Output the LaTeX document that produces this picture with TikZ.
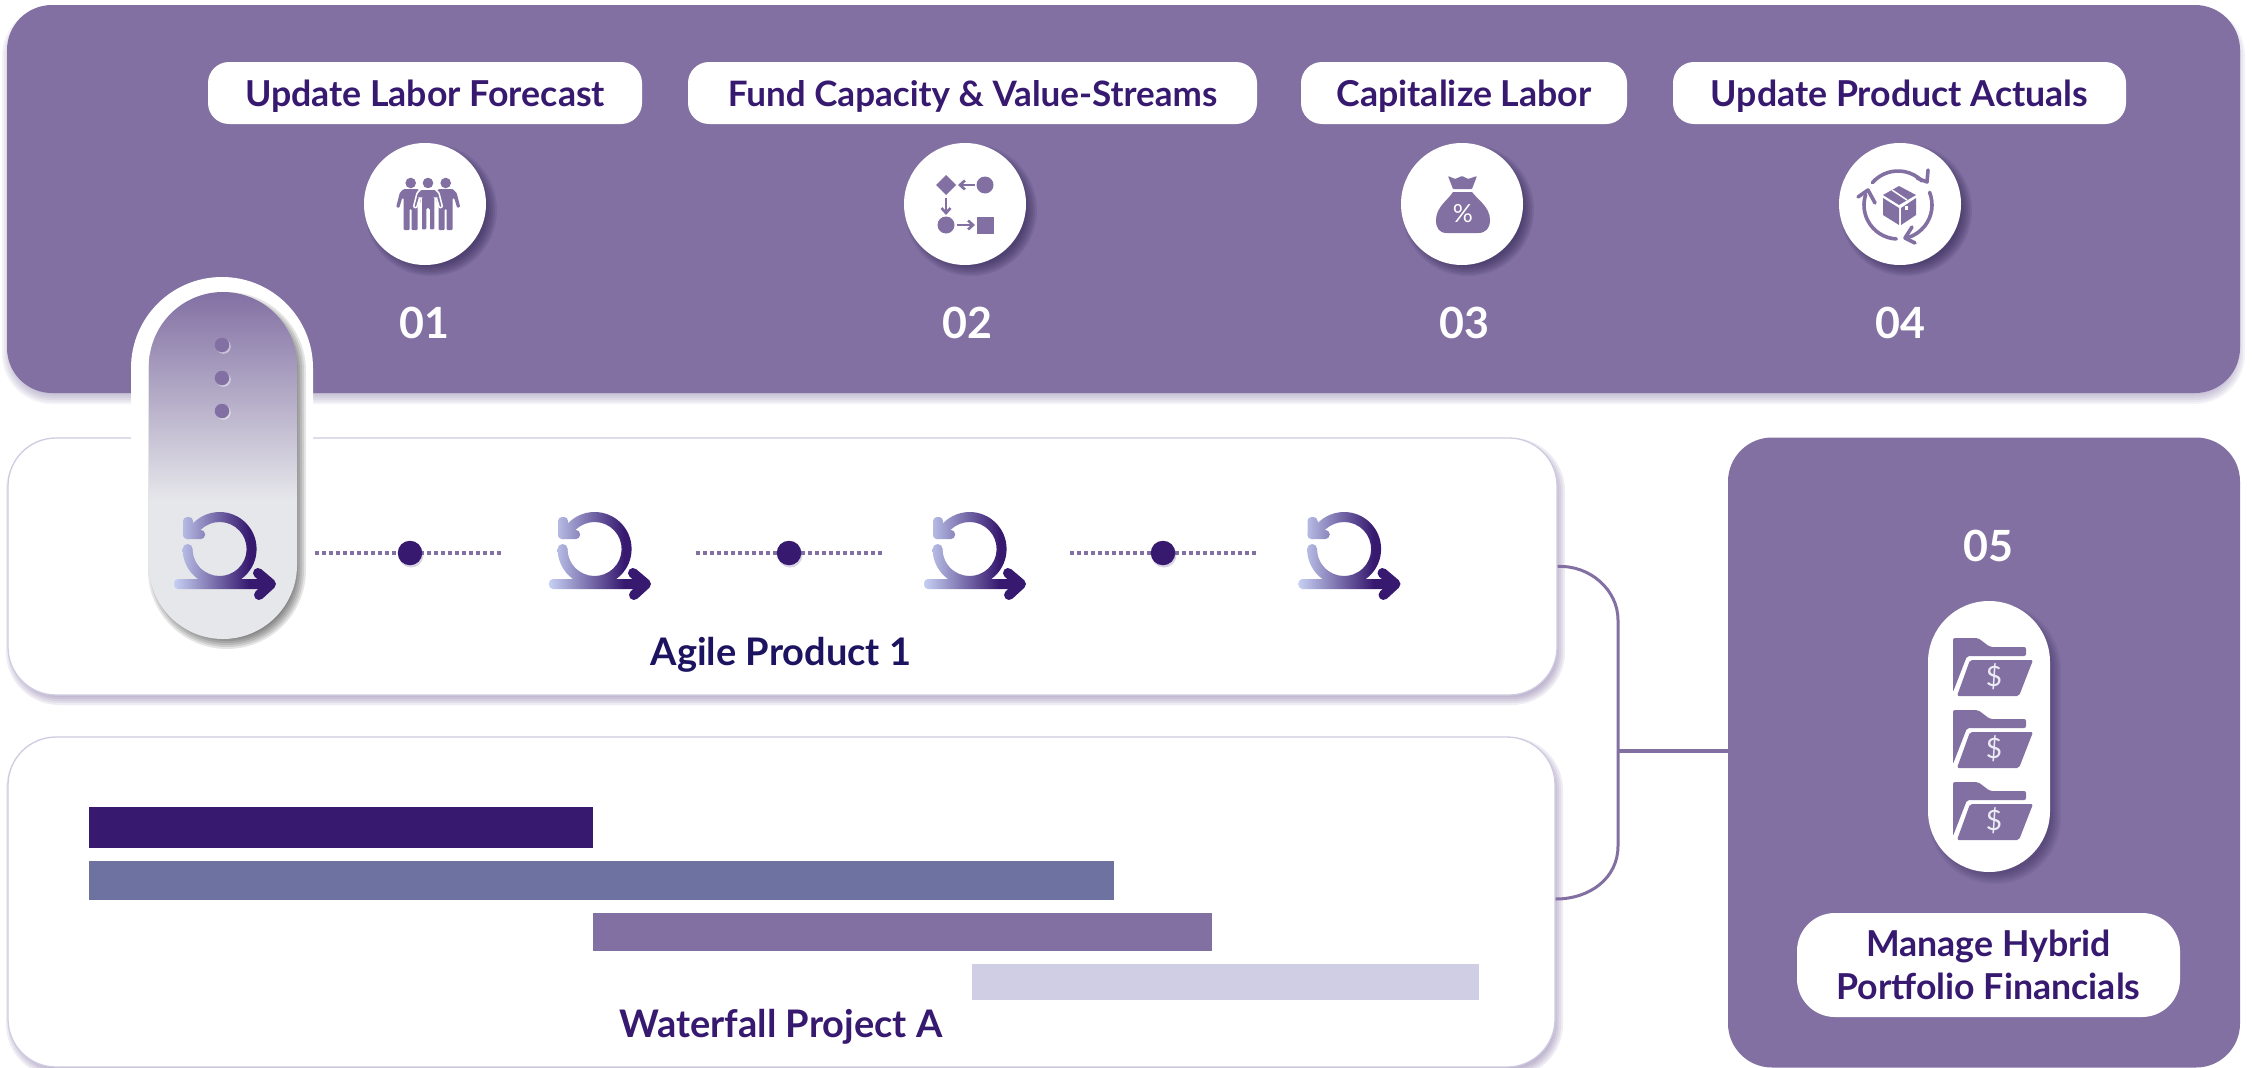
\documentclass[tikz,border=0pt]{standalone}
\usepackage{fontspec}
\setmainfont{Lato}
\usetikzlibrary{arrows.meta}
\definecolor{mainp}{HTML}{8270A3}
\definecolor{deepp}{HTML}{371A70}
\definecolor{navyp}{HTML}{1C1460}
\definecolor{slatep}{HTML}{6E72A0}
\definecolor{palep}{HTML}{D0CEE4}
\definecolor{borderp}{HTML}{CFCBE0}
\definecolor{greyl}{HTML}{E6E7EB}
\definecolor{scruml}{HTML}{C6D0F2}
\definecolor{shadowd}{HTML}{2E2350}
\pgfdeclarehorizontalshading{scrumgrad}{100bp}{color(0bp)=(scruml); color(25bp)=(scruml); color(61bp)=(deepp); color(100bp)=(deepp)}
\pgfdeclareverticalshading{pillgrad}{100bp}{color(0bp)=(greyl); color(25bp)=(greyl); color(45bp)=(greyl); color(75bp)=(mainp); color(100bp)=(mainp)}
\newcommand{\softshadow}[9]{%
  \foreach \s in {5,3,1,-1,-3,-5}{%
    \pgfmathsetmacro{\rr}{#5+\s}%
    \fill[#8,opacity=#9,rounded corners=\rr pt] ({#1+#6-\s},{#2+#7-\s}) rectangle ({#3+#6+\s},{#4+#7+\s});
  }}
\newcommand{\gradpiece}[1]{%
  \begin{scope}\clip #1;\shade[shading=scrumgrad] (174,500) rectangle (278,605);\end{scope}}
\newcommand{\scrumicon}[1]{%
  \begin{scope}[xshift=#1pt]
    \gradpiece{(219.6,549) ++(180:37pt) arc (180:505:37pt) -- ++(145:-10pt) arc (505:180:27pt) -- cycle}
    \gradpiece{(187.6,549) circle (5pt)}
    \gradpiece{[rounded corners=4pt] (174,579) rectangle (270,589)}
    \gradpiece{[rounded corners=4pt] (183,517) rectangle (193,539)}
    \gradpiece{[rounded corners=4pt] (183,530) rectangle (205,539)}
    \draw[deepp,line width=10pt,line cap=round,line join=round] (258,573) -- (271,584) -- (259,595);
  \end{scope}}
\newcommand{\personicon}[2]{%
  \fill[mainp] (#1,183) circle (5.3pt);
  \fill[mainp,rounded corners=1pt,#2] (#1-7,189) -- (#1+7,189) -- (#1+11,193) -- (#1+14.5,207) -- (#1+11.5,208) -- (#1+8.5,198) -- (#1+7,198) -- (#1+7,230) -- (#1+1,230) -- (#1+1,209) -- (#1-1,209) -- (#1-1,230) -- (#1-7,230) -- (#1-7,198) -- (#1-8.5,198) -- (#1-11.5,208) -- (#1-14.5,207) -- (#1-11,193) -- cycle;}
\newcommand{\foldericon}[1]{%
  \begin{scope}[yshift=-#1pt]
    \fill[mainp,rounded corners=2pt] (1953,692) -- (1953,638) -- (1978,638) -- (1990,647) -- (2026,647) -- (2026,656) -- (1967,656) -- cycle;
    \fill[mainp,rounded corners=2pt] (1957,696) -- (1970,660) -- (2033,660) -- (2019,696) -- cycle;
    \node[anchor=center,text=palep!40!white,font=\fontsize{28}{28}\selectfont,inner sep=0pt] (dollar#1) at (1994,677) {\$};
  \end{scope}}
\tikzset{
  x=1pt,y=-1pt,
  toplabel/.style={fill=white,rounded corners=21pt,minimum height=62pt,inner sep=0pt,text=deepp,text height=27pt,text depth=0pt,font=\bfseries\fontsize{35.7}{36}\selectfont},
  numtext/.style={text=white,font=\bfseries\fontsize{43}{43}\selectfont,inner sep=0pt},
  iconcircle/.style={circle,fill=white,minimum size=122pt,inner sep=0pt},
  cardbox/.style={draw=borderp,line width=1.3pt,fill=white,rounded corners=48pt,inner sep=0pt},
  cardtext/.style={font=\bfseries\fontsize{38}{38}\selectfont,inner sep=0pt},
  milestone/.style={circle,fill=deepp,minimum size=24.5pt,inner sep=0pt},
  dotline/.style={mainp,line width=4.5pt,dash pattern=on 3.8pt off 3.2pt},
  linkline/.style={mainp,line width=3pt},
  iconline/.style={mainp,line width=3.6pt,line cap=round,line join=round},
}
\begin{document}
\begin{tikzpicture}
\useasboundingbox (0,0) rectangle (2252,1068);
\fill[white] (0,0) rectangle (2252,1068);
% top panel
\softshadow{7}{5}{2240}{393}{45}{0}{6}{mainp}{0.09}
\node[fill=mainp,rounded corners=45pt,minimum width=2233pt,minimum height=388pt,inner sep=0pt] (panelT) at (1123.5,199) {};
% labels
\node[toplabel,minimum width=434pt] (l1) at (425,93) {Update Labor Forecast};
\node[toplabel,minimum width=569pt,font=\bfseries\fontsize{35}{36}\selectfont] (l2) at (972.5,93) {Fund Capacity \& Value-Streams};
\node[toplabel,minimum width=326pt] (l3) at (1464,93) {Capitalize Labor};
\node[toplabel,minimum width=453pt] (l4) at (1899.5,93) {Update Product Actuals};
% circles
\foreach \n/\cx in {1/425,2/965,3/1462,4/1900}{
  \softshadow{\cx-61}{143}{\cx+61}{265}{61}{6}{6}{shadowd}{0.13}
  \node[iconcircle] (c\n) at (\cx,204) {};
}
\node[numtext] (n1) at (424,323) {01};
\node[numtext] (n2) at (967,323) {02};
\node[numtext] (n3) at (1464,323) {03};
\node[numtext] (n4) at (1900,323) {04};
% icon 1
\personicon{410.7}{}
\personicon{445.7}{}
\personicon{428}{draw=white,line width=1.5pt}
% icon 2
\fill[mainp] (946,175) -- (956,185) -- (946,195) -- (936,185) -- cycle;
\fill[mainp] (985,185) circle (8.5pt);
\fill[mainp] (946,225) circle (8.5pt);
\fill[mainp] (977,217) rectangle (994,234);
\draw[mainp,line width=2.6pt,-{Straight Barb[length=5pt,width=9pt]}] (975,185) -- (958,185);
\draw[mainp,line width=2.6pt,-{Straight Barb[length=5pt,width=9pt]}] (946,198) -- (946,215);
\draw[mainp,line width=2.6pt,-{Straight Barb[length=5pt,width=9pt]}] (957,225) -- (975,225);
% icon 3
\fill[mainp,rounded corners=0.8pt] (1448,176) -- (1455,179) -- (1462,176) -- (1468,179) -- (1477,176) -- (1472,189) -- (1453,189) -- cycle;
\fill[mainp] (1453,192) -- (1472,192) .. controls (1478,200) and (1490,207) .. (1490,220) .. controls (1490,228) and (1486,233) .. (1478,233) -- (1447,233) .. controls (1439,233) and (1436,228) .. (1436,220) .. controls (1436,207) and (1448,200) .. (1453,192) -- cycle;
\node[text=white,font=\fontsize{25}{25}\selectfont,inner sep=0pt] (pct) at (1463,214) {\%};
% icon 4
\fill[mainp] (1883,198) -- (1899,208) -- (1899,225) -- (1883,215) -- cycle;
\fill[mainp] (1916,198) -- (1901,208) -- (1901,225) -- (1916,215) -- cycle;
\fill[mainp] (1899,186) -- (1916,195) -- (1899,205) -- (1883,195) -- cycle;
\draw[white,line width=1.5pt] (1892,190) -- (1907,200);
\fill[white] (1905,206) rectangle (1908,210);
\draw[iconline] (1898,205) ++(139:34pt) arc (139:45:34pt);
\draw[iconline] (1928,170) -- (1927,182) -- (1917,178);
\draw[iconline] (1898,205) ++(22:34pt) arc (22:-75:34pt);
\draw[iconline] (1912,227) -- (1905,238) -- (1915,243);
\draw[iconline] (1898,205) ++(-93:34pt) arc (-93:-198:34pt);
\draw[iconline] (1858,197) -- (1868,190) -- (1875,203);
% cards
\softshadow{8}{438}{1557}{695}{48}{3}{5}{mainp}{0.12}
\node[cardbox,minimum width=1549pt,minimum height=257pt] (cardA) at (782.5,566.5) {};
\softshadow{8}{737}{1555}{1067}{48}{3}{5}{mainp}{0.12}
\node[cardbox,minimum width=1547pt,minimum height=330pt] (cardB) at (781.5,902) {};
% connector
\coordinate (railtop) at (1618,620);
\coordinate (railbot) at (1618,846);
\coordinate (junc) at (1618,751);
\node[fill=mainp,rounded corners=44pt,minimum width=512pt,minimum height=630pt,inner sep=0pt] (panelE) at (1984,752.5) {};
\draw[linkline] (cardA.east) .. controls (1590,565) and (1618,590) .. (railtop) -- (railbot) .. controls (1618,878) and (1590,899) .. ([yshift=3pt]cardB.east);
\draw[mainp,line width=4.5pt] (junc) -- (junc -| panelE.west);
% gantt
\fill[deepp] (89,807) rectangle (593,848);
\fill[slatep] (89,861) rectangle (1114,900);
\fill[mainp] (593,913) rectangle (1212,951);
\fill[palep] (972,964) rectangle (1479,1000);
\node[cardtext,text=navyp] (agile) at (781,655) {Agile Product 1};
\node[cardtext,text=deepp] (water) at (781,1027) {Waterfall Project A};
% milestones
\foreach \n/\a/\m/\b in {1/315/410/503,2/696/789/883,3/1070/1163/1257}{
  \coordinate (ms\n a) at (\a,553);
  \coordinate (ms\n b) at (\b,553);
  \draw[dotline] (ms\n a) -- (ms\n b);
  \fill[mainp,opacity=0.3] (\m+1,555) circle (12.5pt);
  \node[milestone] (ms\n) at (\m,553) {};
}
% tall pill
\fill[white,rounded corners=91pt] (131,277) rectangle (313,660);
\softshadow{149}{292}{297}{639}{74}{4}{5}{black}{0.1}
\shade[shading=pillgrad,rounded corners=74pt] (149,292) rectangle (297,639);
\foreach \n/\y in {1/345,2/378,3/411}{
  \fill[white,opacity=0.45] (223.5,\y+1.5) circle (7.3pt);
  \node[circle,fill=mainp,minimum size=14.5pt,inner sep=0pt] (pd\n) at (222,\y) {};
}
% scrum icons
\scrumicon{0}
\scrumicon{375}
\scrumicon{750}
\scrumicon{1124.5}
% right panel content
\node[numtext] (n5) at (1988,546) {05};
\softshadow{1928}{601}{2050}{872}{61}{6}{7}{shadowd}{0.09}
\node[fill=white,rounded corners=61pt,minimum width=122pt,minimum height=271pt,inner sep=0pt] (fpill) at (1989,736.5) {};
\foldericon{0}
\foldericon{72}
\foldericon{144}
\node[fill=white,rounded corners=38pt,minimum width=383pt,minimum height=104pt,inner sep=0pt,text=deepp,font=\bfseries\fontsize{35.7}{43}\selectfont,align=center] (l5) at (1988.5,965) {Manage Hybrid\\Portfolio Financials};
\end{tikzpicture}
\end{document}
